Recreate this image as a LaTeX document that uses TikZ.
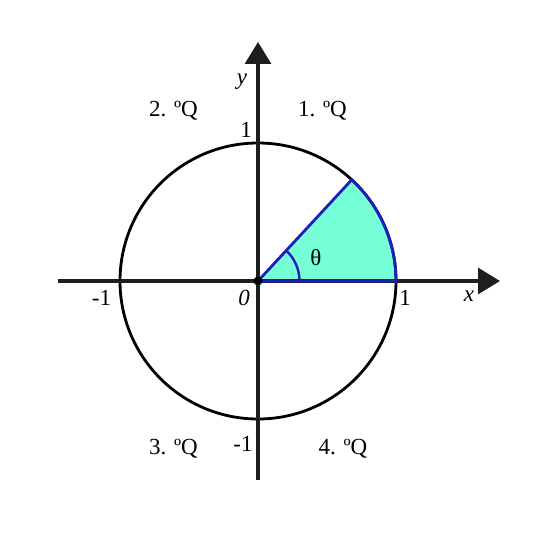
\documentclass[tikz,border=0pt]{standalone}
\usepackage{fontspec}
\setmainfont{Liberation Serif}
\usetikzlibrary{arrows.meta}
\definecolor{sectfill}{RGB}{118,255,214}
\definecolor{sectline}{RGB}{30,30,190}
\definecolor{axcol}{RGB}{30,30,30}
\begin{document}
\begin{tikzpicture}[x=1pt,y=-1pt,
  axis/.style={draw=axcol,line width=3.2pt,-{Triangle[length=22pt,width=26pt]}},
  lbl/.style={font=\fontsize{23}{23}\selectfont,inner sep=0pt,anchor=base},
  ilbl/.style={lbl,font=\fontsize{23}{23}\selectfont\itshape}]
\useasboundingbox (0,0) rectangle (535,553);
\coordinate (O) at (258,281);
\coordinate (xl) at (58,281);
\coordinate (xr) at (500,281);
\coordinate (yb) at (258,480);
\coordinate (yt) at (258,42);
% sector
\fill[sectfill] (O) -- ++(0:138) arc[start angle=0,end angle=-47.2,radius=138] -- cycle;
% circle
\draw[black,line width=2.8pt] (O) circle[radius=138];
% axes
\draw[axis] (xl) -- (xr);
\draw[axis] (yb) -- (yt);
% sector outline
\draw[sectline,line width=2.8pt,line join=round] (O) -- ++(0:138) arc[start angle=0,end angle=-47.2,radius=138] -- cycle;
\draw[sectline,line width=2.4pt] (O) ++(0:41.5) arc[start angle=0,end angle=-47.2,radius=41.5];
\fill[black] (O) circle[radius=4.5];
% labels
\node[lbl] (q2) at (173.5,117) {2. ºQ};
\node[lbl] (q1) at (322.5,117) {1. ºQ};
\node[lbl] (q3) at (173.5,454) {3. ºQ};
\node[lbl] (q4) at (343,454) {4. ºQ};
\node[ilbl] (ylab) at (242,85) {y};
\node[ilbl] (xlab) at (469,301) {x};
\node[ilbl] (zero) at (244,305) {0};
\node[lbl] (one) at (246,138) {1};
\node[lbl] (onex) at (405,305) {1};
\node[lbl] (mone) at (101.5,305) {-1};
\node[lbl] (money) at (243,451) {-1};
\node[lbl] (theta) at (316,265) {θ};
\end{tikzpicture}
\end{document}
